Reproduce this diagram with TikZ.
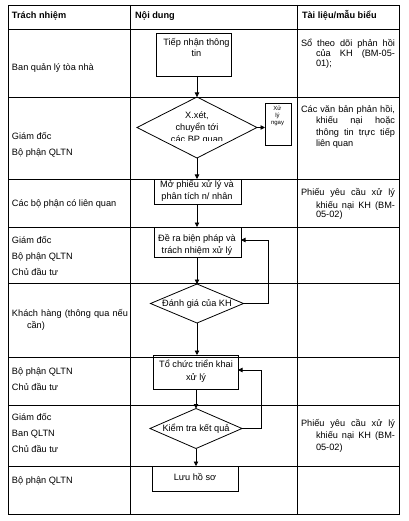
\documentclass[tikz,border=0pt]{standalone}
\usepackage{fontspec}
\setmainfont{Liberation Sans}
\usetikzlibrary{shapes.geometric,arrows.meta}
\tikzset{
  every node/.style={font=\fontsize{9.2pt}{11pt}\selectfont, inner sep=0pt, outer sep=0pt},
  grid/.style={line width=0.8pt},
  box/.style={draw, line width=0.8pt, rectangle},
  dia/.style={draw, line width=0.8pt, diamond},
  arr/.style={line width=0.8pt, -{Triangle[length=4.5pt,width=4.5pt]}},
  txt/.style={anchor=base west},
  ctr/.style={anchor=base},
  tiny/.style={anchor=base, font=\fontsize{6pt}{7pt}\selectfont},
  hd/.style={anchor=base west, font=\fontsize{9.2pt}{11pt}\selectfont\bfseries},
}
\newcommand{\jl}[2]{\makebox[#1][s]{#2}}
\begin{document}
\begin{tikzpicture}[x=1pt,y=-1pt]
\useasboundingbox (0,0) rectangle (408,521);
% table
\draw[grid] (8,5) rectangle (399,514);
\draw[grid] (130,5) -- (130,514);
\draw[grid] (297.5,5) -- (297.5,514);
\foreach \yy in {29,97,179,227,283,357,405,466}
  \draw[grid] (8,\yy) -- (399,\yy);
% headers
\node[hd] (h1) at (12,19) {Trách nhiệm};
\node[hd] (h2) at (135,19) {Nội dung};
\node[hd] (h3) at (302,19) {Tài liệu/mẫu biểu};
% left column
\node[txt] (l1) at (12,71) {Ban quản lý tòa nhà};
\node[txt] (l2a) at (12,140) {Giám đốc};
\node[txt] (l2b) at (12,156) {Bộ phận QLTN};
\node[txt] (l3) at (12,206) {Các bộ phận có liên quan};
\node[txt] (l4a) at (12,243) {Giám đốc};
\node[txt] (l4b) at (12,259) {Bộ phận QLTN};
\node[txt] (l4c) at (12,275) {Chủ đầu tư};
\node[txt] (l5a) at (12,316) {\jl{116pt}{Khách hàng (thông qua nếu}};
\node[txt] (l5b) at (27,328) {cần)};
\node[txt] (l6a) at (12,374) {Bộ phận QLTN};
\node[txt] (l6b) at (12,390) {Chủ đầu tư};
\node[txt] (l7a) at (12,420) {Giám đốc};
\node[txt] (l7b) at (12,436) {Ban QLTN};
\node[txt] (l7c) at (12,452) {Chủ đầu tư};
\node[txt] (l8) at (12,483) {Bộ phận QLTN};
% right column
\node[txt] (r1a) at (301,47) {\jl{94pt}{Sổ theo dõi phản hồi}};
\node[txt] (r1b) at (316,57) {\jl{79pt}{của KH (BM-05-}};
\node[txt] (r1c) at (316,67) {01);};
\node[txt] (r2a) at (301,113) {\jl{94pt}{Các văn bản phản hồi,}};
\node[txt] (r2b) at (316,124) {\jl{79pt}{khiếu nại hoặc}};
\node[txt] (r2c) at (316,136) {\jl{79pt}{thông tin trực tiếp}};
\node[txt] (r2d) at (316,147) {liên quan};
\node[txt] (r3a) at (301,196) {\jl{94pt}{Phiếu yêu cầu xử lý}};
\node[txt] (r3b) at (316,208) {\jl{79pt}{khiếu nại KH (BM-}};
\node[txt] (r3c) at (316,218) {05-02)};
\node[txt] (r7a) at (301,426) {\jl{94pt}{Phiếu yêu cầu xử lý}};
\node[txt] (r7b) at (316,438) {\jl{79pt}{khiếu nại KH (BM-}};
\node[txt] (r7c) at (316,450) {05-02)};
% flow shapes
\node[box, minimum width=75pt, minimum height=43pt] (b1) at (193.5,54.5) {};
\node[ctr] (t1a) at (196.5,46) {Tiếp nhận thông};
\node[ctr] (t1b) at (196.5,57) {tin};
\node[dia, minimum width=120pt, minimum height=61pt] (d1) at (197,127.5) {};
\begin{scope}
\clip (131,98) rectangle (296,140.5);
\node[ctr] (t2a) at (197,119) {X.xét,};
\node[ctr] (t2b) at (197,131) {chuyển tới};
\node[ctr] (t2c) at (197,142.5) {các BP quan};
\end{scope}
\node[box, minimum width=26pt, minimum height=42pt] (xb) at (278,124) {};
\node[tiny] (x1) at (277.5,110.5) {Xử};
\node[tiny] (x2) at (277.5,117.5) {lý};
\node[tiny] (x3) at (277.5,125) {ngay};
\node[box, minimum width=87pt, minimum height=25pt] (b3) at (197.5,191.5) {};
\node[ctr] (t3a) at (197,188) {Mở phiếu xử lý và};
\node[ctr] (t3b) at (197,200) {phân tích n/ nhân};
\node[box, minimum width=87pt, minimum height=30pt] (b4) at (197.5,242) {};
\node[ctr] (t4a) at (197,241) {Đề ra biện pháp và};
\node[ctr] (t4b) at (197,253.5) {trách nhiệm xử lý};
\node[dia, minimum width=93pt, minimum height=39pt] (d2) at (197,303.5) {};
\node[ctr] (t5) at (197,306.5) {Đánh giá của KH};
\node[box, minimum width=85pt, minimum height=34pt] (b5) at (195.5,372) {};
\node[ctr] (t6a) at (196,367) {Tổ chức triển khai};
\node[ctr] (t6b) at (196,380) {xử lý};
\node[dia, minimum width=92pt, minimum height=40pt] (d3) at (196,428.5) {};
\node[ctr] (t7) at (196,431.5) {Kiểm tra kết quả};
\node[box, minimum width=86pt, minimum height=25pt] (b6) at (195,478.5) {};
\node[ctr] (t8) at (195,480) {Lưu hồ sơ};
% connectors
\draw[arr] (b1.south -| d1.north) -- (d1.north);
\draw[arr] (d1.east) -- (d1.east -| xb.west);
\draw[arr] (d1.south) -- (d1.south |- b3.north);
\draw[arr] (b3.south -| d1.south) -- (b4.north -| d1.south);
\draw[arr] (b4.south -| d2.north) -- (d2.north);
\coordinate (f1) at (268,240);
\draw[arr] (d2.east) -| (f1) -- (b4.east |- f1);
\draw[arr] (d2.south) -- (d2.south |- b5.north);
\draw[arr] (b5.south -| d3.north) -- (d3.north);
\coordinate (f2) at (261.5,370);
\draw[arr] (d3.east) -| (f2) -- (b5.east |- f2);
\draw[arr] (d3.south) -- (d3.south |- b6.north);
\end{tikzpicture}
\end{document}
